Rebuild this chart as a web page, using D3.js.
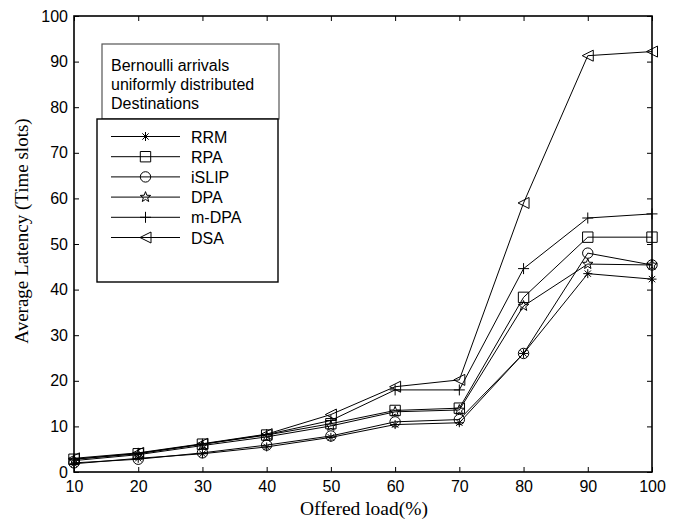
<!DOCTYPE html>
<html>
<head>
<meta charset="utf-8">
<script src="https://cdn.jsdelivr.net/npm/d3@7"></script>
<style>
  html, body { margin: 0; padding: 0; background: #fff; }
  svg { display: block; }
</style>
</head>
<body>
<svg id="chart" width="680" height="523"></svg>
<script>
// Offered load (%) on the x axis
const loads = [10, 20, 30, 40, 50, 60, 70, 80, 90, 100];

// Average latency (time slots) for each scheduler
const rrm   = [1.8, 3.0, 4.0, 5.5, 7.6, 10.4, 10.8, 26.0, 43.5, 42.3];
const rpa   = [2.8, 4.0, 6.1, 8.1, 10.6, 13.5, 14.0, 38.3, 51.5, 51.5];
const islip = [2.0, 2.8, 4.2, 5.9, 7.9, 11.0, 11.5, 26.0, 48.0, 45.4];
const dpa   = [2.5, 3.8, 5.8, 7.7, 10.1, 13.2, 13.6, 36.4, 45.6, 45.4];
const mdpa  = [2.8, 4.1, 6.1, 8.2, 11.3, 18.0, 18.0, 44.6, 55.7, 56.6];
const dsa   = [3.0, 4.2, 6.2, 8.3, 12.6, 18.7, 20.2, 59.0, 91.3, 92.2];

const seriesNames = ["RRM", "RPA", "iSLIP", "DPA", "m-DPA", "DSA"];
const markerKinds = ["asterisk", "square", "circle", "star", "plus", "triLeft"];

const xTicks = [10, 20, 30, 40, 50, 60, 70, 80, 90, 100];
const yTicks = [0, 10, 20, 30, 40, 50, 60, 70, 80, 90, 100];

const noteLines = ["Bernoulli arrivals", "uniformly distributed", "Destinations"];

const series = [rrm, rpa, islip, dpa, mdpa, dsa].map((vals, i) => ({
  name: seriesNames[i],
  kind: markerKinds[i],
  points: vals.map((v, j) => ({ x: loads[j], y: v }))
}));

const svg = d3.select("#chart");
const plot = { left: 74, right: 652, top: 16, bottom: 472 };

const x = d3.scaleLinear().domain([10, 100]).range([plot.left, plot.right]);
const y = d3.scaleLinear().domain([0, 100]).range([plot.bottom, plot.top]);

const tickFont = "'Liberation Sans', Arial, sans-serif";
const titleFont = "'Liberation Serif', 'Times New Roman', serif";

// Marker path generator (centered at 0,0)
function markerPath(kind, r) {
  const p = d3.path();
  switch (kind) {
    case "asterisk": {
      const d = r * 0.7071;
      p.moveTo(-r, 0); p.lineTo(r, 0);
      p.moveTo(0, -r); p.lineTo(0, r);
      p.moveTo(-d, -d); p.lineTo(d, d);
      p.moveTo(-d, d); p.lineTo(d, -d);
      return p.toString();
    }
    case "plus":
      p.moveTo(-r, 0); p.lineTo(r, 0);
      p.moveTo(0, -r); p.lineTo(0, r);
      return p.toString();
    case "square":
      p.rect(-r, -r, 2 * r, 2 * r);
      return p.toString();
    case "circle":
      p.arc(0, 0, r, 0, 2 * Math.PI);
      p.closePath();
      return p.toString();
    case "triLeft":
      p.moveTo(-r, 0); p.lineTo(r, -r); p.lineTo(r, r); p.closePath();
      return p.toString();
    case "star": {
      const outer = r * 1.05, inner = outer * 0.42;
      for (let k = 0; k < 10; k++) {
        const rad = k % 2 === 0 ? outer : inner;
        const a = -Math.PI / 2 + k * Math.PI / 5;
        const px = rad * Math.cos(a), py = rad * Math.sin(a);
        if (k === 0) p.moveTo(px, py); else p.lineTo(px, py);
      }
      p.closePath();
      return p.toString();
    }
  }
  return "";
}

const markerR = { asterisk: 4.5, plus: 5.5, square: 5.2, circle: 5.2, triLeft: 5.5, star: 5.2 };

// Axes with inward ticks on all four sides
const axesG = svg.append("g");

const xAxisBottom = d3.axisBottom(x).tickValues(xTicks).tickSize(-5).tickPadding(9).tickFormat(d3.format("d"));
const gxb = axesG.append("g").attr("transform", `translate(0,${plot.bottom})`).call(xAxisBottom);
const xAxisTop = d3.axisTop(x).tickValues(xTicks).tickSize(-5).tickFormat("");
const gxt = axesG.append("g").attr("transform", `translate(0,${plot.top})`).call(xAxisTop);
const yAxisLeft = d3.axisLeft(y).tickValues(yTicks).tickSize(-5).tickPadding(6).tickFormat(d3.format("d"));
const gyl = axesG.append("g").attr("transform", `translate(${plot.left},0)`).call(yAxisLeft);
const yAxisRight = d3.axisRight(y).tickValues(yTicks).tickSize(-5).tickFormat("");
const gyr = axesG.append("g").attr("transform", `translate(${plot.right},0)`).call(yAxisRight);

[gxb, gxt, gyl, gyr].forEach(g => {
  g.select(".domain").remove();
  g.selectAll(".tick line").attr("stroke", "#000").attr("stroke-width", 1);
  g.selectAll("text").attr("fill", "#000").style("font-family", tickFont).style("font-size", "16px");
});

// data lines and markers
const line = d3.line().x(d => x(d.x)).y(d => y(d.y));
const dataG = svg.append("g");
series.forEach(s => {
  dataG.append("path")
    .datum(s.points)
    .attr("d", line)
    .attr("fill", "none")
    .attr("stroke", "#000")
    .attr("stroke-width", 1);
  dataG.selectAll(null)
    .data(s.points)
    .enter()
    .append("path")
    .attr("transform", d => `translate(${x(d.x)},${y(d.y)})`)
    .attr("d", markerPath(s.kind, markerR[s.kind]))
    .attr("fill", "none")
    .attr("stroke", "#000")
    .attr("stroke-width", 1);
});

// frame
svg.append("rect")
  .attr("x", plot.left).attr("y", plot.top)
  .attr("width", plot.right - plot.left).attr("height", plot.bottom - plot.top)
  .attr("fill", "none").attr("stroke", "#000").attr("stroke-width", 1.6);

// axis titles
svg.append("text")
  .attr("x", 364)
  .attr("y", 515)
  .attr("text-anchor", "middle")
  .style("font-family", titleFont).style("font-size", "19.5px")
  .text("Offered load(%)");

svg.append("text")
  .attr("transform", `translate(28,231) rotate(-90)`)
  .attr("text-anchor", "middle")
  .style("font-family", titleFont).style("font-size", "19px")
  .text("Average Latency (Time slots)");

// annotation box
const note = svg.append("g");
note.append("rect")
  .attr("x", 102).attr("y", 44).attr("width", 177).attr("height", 75)
  .attr("fill", "#fff").attr("stroke", "#555").attr("stroke-width", 1.2);
note.selectAll("text")
  .data(noteLines)
  .enter()
  .append("text")
  .attr("x", 111)
  .attr("y", (d, i) => 71 + i * 19)
  .style("font-family", tickFont).style("font-size", "16px")
  .attr("fill", "#000")
  .text(d => d);

// legend
const leg = svg.append("g");
leg.append("rect")
  .attr("x", 97).attr("y", 119).attr("width", 181).attr("height", 163)
  .attr("fill", "#fff").attr("stroke", "#000").attr("stroke-width", 1.4);
series.forEach((s, i) => {
  const ly = 136.5 + i * 20.2;
  leg.append("line")
    .attr("x1", 111).attr("x2", 180).attr("y1", ly).attr("y2", ly)
    .attr("stroke", "#000").attr("stroke-width", 1);
  leg.append("path")
    .attr("transform", `translate(145.5,${ly})`)
    .attr("d", markerPath(s.kind, markerR[s.kind]))
    .attr("fill", "none").attr("stroke", "#000").attr("stroke-width", 1);
  leg.append("text")
    .attr("x", 191).attr("y", ly + 6)
    .style("font-family", tickFont).style("font-size", "16px")
    .attr("fill", "#000")
    .text(s.name);
});
</script>
</body>
</html>
